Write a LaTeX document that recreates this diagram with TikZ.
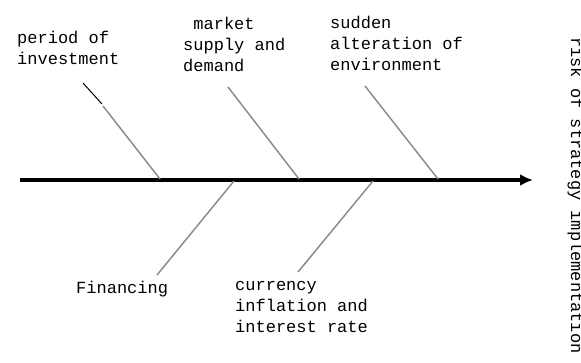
\documentclass[tikz,border=0pt]{standalone}
\usepackage{fontspec}
\setmainfont{Liberation Mono}
\usetikzlibrary{arrows.meta}
\tikzset{
  lbl/.style={anchor=base west, inner sep=0pt, align=left, font={\fontsize{17}{20.7}\selectfont}},
  bone/.style={draw=black!45, line width=1.5pt},
  spine/.style={draw=black, line width=3.6pt, -{Latex[length=13pt,width=12pt]}}
}
\begin{document}
\begin{tikzpicture}[x=1pt,y=-1pt]
\useasboundingbox (0,0) rectangle (581,362);
% spine
\coordinate (s0) at (20,180);
\coordinate (s1) at (533,180);
\draw[spine] (s0) -- (s1);
% axis points
\coordinate (a1) at (160,179);
\coordinate (a2) at (299,179);
\coordinate (a3) at (438,179);
\coordinate (b1) at (234,181);
\coordinate (b2) at (373,181);
% branch ends
\coordinate (t0) at (83,83);
\coordinate (t0b) at (102,104);
\coordinate (t1) at (103,106);
\coordinate (t2) at (228,87);
\coordinate (t3) at (365,86);
\coordinate (u1) at (157,275);
\coordinate (u2) at (298,272);
\draw[black, line width=1pt] (t0) -- (t0b);
\draw[bone] (t1) -- (a1);
\draw[bone] (t2) -- (a2);
\draw[bone] (t3) -- (a3);
\draw[bone] (b1) -- (u1);
\draw[bone] (b2) -- (u2);
% labels (anchored at the baseline of their last line)
\node[lbl] (l1) at (17,64) {period of\\investment};
\node[lbl] (l2) at (183,71) {\hspace*{0.6em}market\\supply and\\demand};
\node[lbl] (l3) at (330,70) {sudden\\alteration of\\environment};
\node[lbl] (l4) at (76,293) {Financing};
\node[lbl] (l5) at (235,332) {currency\\inflation and\\interest rate};
\node[lbl, rotate=-90, align=center] (l6) at (571,37) {risk of strategy implementation};
\end{tikzpicture}
\end{document}
